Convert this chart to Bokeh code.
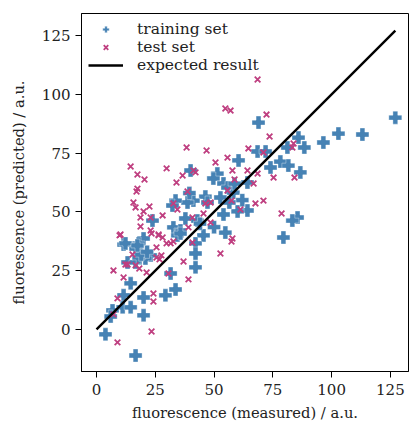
from bokeh.plotting import figure
from bokeh.models import Range1d, FixedTicker, Legend, LegendItem
from bokeh.embed import file_html
from bokeh.resources import INLINE

# training set (measured, predicted)
train_x = [68.9, 127.1, 85.9, 102.9, 113.1, 96.5, 88.4, 81.2, 68.5, 71.9, 60.4, 78.2, 81.6, 74.0,
           86.7, 40.0, 51.4, 49.7, 54.0, 55.7, 64.2, 58.2, 52.7, 46.3, 47.2, 41.2, 38.7, 33.6,
           32.3, 64.2, 60.0, 54.0, 23.8, 37.8, 42.9, 85.5, 83.3, 32.7, 35.7, 34.4, 45.5, 54.8,
           79.5, 20.0, 11.5, 17.9, 16.6, 23.0, 20.8, 13.2, 16.6, 17.9, 35.7, 42.1, 42.1, 42.1,
           31.5, 14.5, 33.6, 29.3, 20.0, 11.5, 11.1, 14.5, 6.8, 6.0, 20.0, 3.8, 16.6,
           19.0, 21.5, 12.3, 17.4, 58.7, 62.0, 44.0, 50.0, 56.5, 39.5]
train_y = [88.0, 90.1, 81.6, 83.3, 82.9, 79.5, 77.4, 77.4, 75.7, 75.7, 71.9, 71.4, 69.7, 68.9,
           66.8, 67.6, 66.3, 64.2, 62.1, 60.4, 62.5, 58.2, 56.1, 56.5, 54.0, 54.8, 54.0, 54.8,
           52.7, 50.6, 50.2, 48.9, 46.3, 47.2, 46.3, 47.6, 46.3, 43.4, 42.1, 40.0, 40.0, 41.2,
           39.1, 38.7, 36.1, 36.6, 34.4, 31.5, 30.2, 28.5, 28.5, 30.6, 40.8, 36.6, 32.3, 26.4,
           23.8, 19.6, 17.0, 14.5, 13.6, 14.5, 9.4, 9.4, 8.1, 5.5, 6.0, -2.1, -11.1,
           31.8, 33.0, 36.6, 35.7, 62.0, 55.0, 45.0, 43.5, 54.0, 58.0]

# test set (measured, predicted)
test_x = [68.5, 54.8, 57.0, 72.3, 73.6, 83.8, 83.3, 38.3, 46.8, 64.6, 71.0, 55.7, 50.6, 14.5,
          29.8, 41.2, 42.1, 57.8, 64.2, 17.4, 20.4, 36.6, 34.0, 58.7, 68.5, 75.3, 84.2, 66.8,
          17.4, 17.0, 38.7, 55.7, 57.4, 15.7, 16.6, 20.0, 22.5, 34.4, 32.7, 46.3, 48.5, 67.6,
          71.0, 61.2, 45.5, 18.7, 23.0, 28.1, 78.7, 40.8, 18.7, 23.0, 39.1, 48.5, 10.2, 26.4,
          28.1, 57.8, 9.8, 23.4, 26.4, 29.8, 31.5, 32.7, 26.8, 25.5, 27.6, 25.5, 15.3, 7.2,
          11.5, 13.2, 21.3, 30.6, 37.0, 40.8, 39.1, 52.7, 57.4, 24.2, 24.2, 8.9, 7.2, 23.4,
          8.9, 16.6, 12.3, 18.2]
test_y = [106.3, 94.0, 93.1, 91.4, 82.1, 79.1, 77.4, 77.4, 76.1, 77.0, 75.3, 73.1, 71.0, 69.3,
          68.5, 67.6, 66.8, 67.6, 67.6, 65.9, 63.8, 65.5, 62.5, 63.8, 66.3, 64.6, 64.6, 62.1,
          59.9, 58.7, 58.7, 59.1, 54.8, 54.0, 51.9, 50.2, 52.3, 51.0, 53.6, 53.6, 54.0, 53.6,
          54.8, 51.0, 49.3, 47.6, 47.6, 48.5, 49.3, 47.6, 43.8, 42.1, 43.4, 45.5, 40.4, 40.4,
          39.1, 38.7, 40.0, 40.8, 40.0, 36.6, 36.6, 37.4, 29.8, 30.6, 31.5, 34.9, 31.9, 25.1,
          22.1, 27.6, 24.2, 23.8, 28.9, 37.0, 21.3, 32.3, 37.4, 15.3, 11.9, 13.2, 6.4, -0.9,
          -5.5, 27.3, 27.6, 25.9]

ticks = [0, 25, 50, 75, 100, 125]
line_max = max(train_x + test_x)
expected_x = [0, line_max]
expected_y = [0, line_max]

FONT = "DejaVu Serif"

p = figure(frame_width=327, frame_height=358, output_backend="svg", toolbar_location=None,
           x_range=Range1d(-6.4, 132.7), y_range=Range1d(-17.9, 134.4),
           min_border_left=81, min_border_top=13, min_border_right=1, min_border_bottom=50)

r_train = p.scatter(train_x, train_y, marker="plus", size=13, fill_color="#4682b4",
                    line_color="white", line_width=0.6, line_alpha=0.6)
r_test = p.scatter(test_x, test_y, marker="x", size=8, line_color="#bf3f80", line_width=1.8)
r_line = p.line(expected_x, expected_y, line_color="black", line_width=2.4)

p.xgrid.visible = False
p.ygrid.visible = False
p.outline_line_color = "black"
p.outline_line_width = 1

for ax in (p.xaxis[0], p.yaxis[0]):
    ax.ticker = FixedTicker(ticks=ticks)
    ax.minor_tick_line_color = None
    ax.major_tick_in = 0
    ax.major_tick_out = 6
    ax.axis_line_color = "black"
    ax.major_label_text_font = FONT
    ax.major_label_text_font_size = "15px"
    ax.major_label_text_color = "#222222"
    ax.axis_label_text_font = FONT
    ax.axis_label_text_font_size = "14.7px"
    ax.axis_label_text_font_style = "normal"
    ax.axis_label_text_color = "#222222"

p.xaxis.axis_label = "fluorescence (measured) / a.u."
p.yaxis.axis_label = "fluorescence (predicted) / a.u."
p.xaxis.major_label_standoff = 6
p.xaxis.axis_label_standoff = 6
p.yaxis.major_label_standoff = 5
p.yaxis.axis_label_standoff = 12

legend = Legend(items=[LegendItem(label="training set", renderers=[r_train]),
                       LegendItem(label="test set", renderers=[r_test]),
                       LegendItem(label="expected result", renderers=[r_line])],
                location="top_left")
legend.label_text_font = FONT
legend.label_text_font_size = "15.5px"
legend.label_text_color = "#222222"
legend.background_fill_alpha = 0
legend.border_line_alpha = 0
legend.glyph_width = 35
legend.glyph_height = 16
legend.label_height = 16
legend.label_standoff = 14
legend.spacing = 0
legend.padding = 2
legend.margin = 5
p.add_layout(legend)

open("out.html", "w").write(file_html(p, INLINE))
